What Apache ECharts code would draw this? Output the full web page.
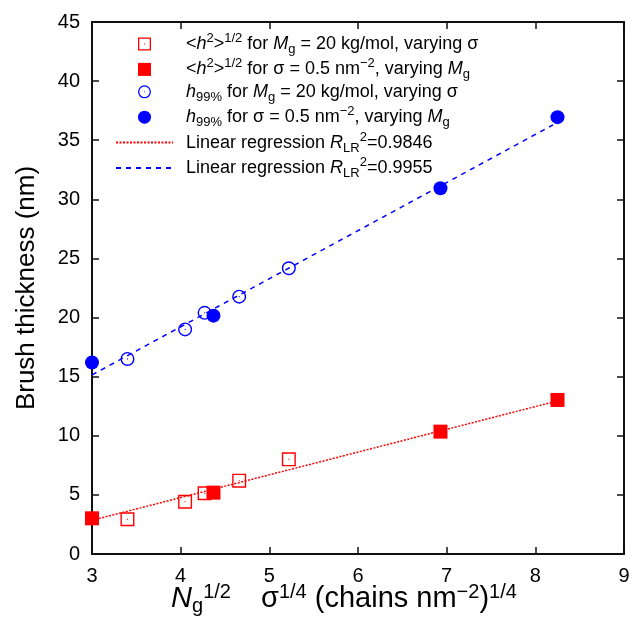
<!DOCTYPE html>
<html>
<head>
<meta charset="utf-8">
<script src="https://cdn.jsdelivr.net/npm/echarts@6/dist/echarts.min.js"></script>
<style>html,body{margin:0;padding:0;background:#fff}#c{width:633px;height:624px}</style>
</head>
<body>
<div id="c"></div>
<script>
// x-axis values: Ng^(1/2) sigma^(1/4)
var xVaryingSigma = [3.40, 4.05, 4.27, 4.66, 5.22];
var xVaryingMg = [3.00, 4.37, 6.93, 8.25];
// <h^2>^(1/2) values (nm)
var h2VaryingSigma = [2.94, 4.42, 5.14, 6.20, 8.01];
var h2VaryingMg = [3.02, 5.19, 10.35, 13.03];
// h99% values (nm)
var h99VaryingSigma = [16.5, 19.0, 20.4, 21.77, 24.17];
var h99VaryingMg = [16.2, 20.16, 30.94, 36.95];
// regression line end points
var regX = [3.0, 8.25];
var regRed = [2.85, 12.95];
var regBlueX = [3.0, 8.2];
var regBlue = [15.15, 36.3];

function pairs(xs, ys) { return xs.map(function (x, i) { return [x, ys[i]]; }); }

var FONT = "'Liberation Sans', Arial, Helvetica, sans-serif";
var RED = '#ff0000', BLUE = '#0000ff';
var openSquare = 'path://M0,0L20,0L20,20L0,20Z M2,2L2,18L18,18L18,2Z M9.2,9.2L10.8,9.2L10.8,10.8L9.2,10.8Z';
var filledSquare = 'path://M0,0L20,0L20,20L0,20Z';
var openCircle = 'path://M10,0A10,10,0,1,1,10,20A10,10,0,1,1,10,0Z M10,2A8,8,0,1,0,10,18A8,8,0,1,0,10,2Z M10,9.2A0.8,0.8,0,1,1,10,10.8A0.8,0.8,0,1,1,10,9.2Z';

var legendText = {
  h2s: '{n|<}{i|h}{sup|2}{n|>}{sup|1/2}{n| for }{i|M}{sub|g}{n| = 20 kg/mol, varying σ}',
  h2m: '{n|<}{i|h}{sup|2}{n|>}{sup|1/2}{n| for σ = 0.5 nm}{sup|−2}{n|, varying }{i|M}{sub|g}',
  h99s: '{i|h}{sub|99%}{n| for }{i|M}{sub|g}{n| = 20 kg/mol, varying σ}',
  h99m: '{i|h}{sub|99%}{n| for σ = 0.5 nm}{sup|−2}{n|, varying }{i|M}{sub|g}',
  lrr: '{n|Linear regression }{i|R}{sub|LR}{sup|2}{n|=0.9846}',
  lrb: '{n|Linear regression }{i|R}{sub|LR}{sup|2}{n|=0.9955}'
};

var chart = echarts.init(document.getElementById('c'));
var axisLine = { show: true, onZero: false, lineStyle: { color: '#111', width: 2 } };
var tick = { show: true, inside: true, length: 7, lineStyle: { color: '#111', width: 1.5 } };
var hidden = { opacity: 0, color: 'rgba(0,0,0,0)', borderColor: 'rgba(0,0,0,0)', borderWidth: 0 };

chart.setOption({
  backgroundColor: '#fff',
  animation: false,
  grid: { left: 92, right: 9, top: 22, bottom: 70, containLabel: false },
  legend: {
    orient: 'vertical', left: 110, top: 27, itemWidth: 57, itemHeight: 13, itemGap: 1.4,
    symbolKeepAspect: true,
    data: ['h2s', 'h2m', 'h99s', 'h99m',
      { name: 'lrr', itemStyle: hidden }, { name: 'lrb', itemStyle: hidden }],
    formatter: function (n) { return legendText[n]; },
    textStyle: {
      padding: [0, 0, 0, 8],
      fontFamily: FONT, fontSize: 18, color: '#000',
      rich: {
        n: { fontFamily: FONT, fontSize: 18, lineHeight: 24, color: '#000' },
        i: { fontFamily: FONT, fontSize: 18, lineHeight: 24, fontStyle: 'italic', color: '#000' },
        sup: { fontFamily: FONT, fontSize: 13, lineHeight: 10, verticalAlign: 'top', color: '#000' },
        sub: { fontFamily: FONT, fontSize: 13, lineHeight: 10, verticalAlign: 'bottom', color: '#000' }
      }
    }
  },
  xAxis: [{
    type: 'value', min: 3, max: 9, interval: 1, position: 'bottom',
    axisLine: axisLine, axisTick: tick, splitLine: { show: false },
    axisLabel: { fontFamily: FONT, fontSize: 20, color: '#000', margin: 12 },
    name: '{i|N}{sub|g}{sup|1/2}{ns| σ}{sup|1/4}{n| (chains nm}{sup|−2}{n|)}{sup|1/4}',
    nameLocation: 'middle', nameGap: 28, nameMoveOverlap: false,
    nameTextStyle: {
      padding: [0, 28, 0, 0],
      rich: {
        n: { fontFamily: FONT, fontSize: 29, lineHeight: 34, color: '#000' },
        ns: { fontFamily: FONT, fontSize: 29, lineHeight: 34, color: '#000', padding: [0, 0, 0, 22] },
        i: { fontFamily: FONT, fontSize: 29, lineHeight: 34, fontStyle: 'italic', color: '#000' },
        sup: { fontFamily: FONT, fontSize: 20, lineHeight: 16, verticalAlign: 'top', color: '#000' },
        sub: { fontFamily: FONT, fontSize: 20, lineHeight: 14, verticalAlign: 'bottom', color: '#000' }
      }
    }
  }, {
    type: 'value', min: 3, max: 9, interval: 1, position: 'top',
    axisLine: axisLine, axisTick: tick, splitLine: { show: false }, axisLabel: { show: false }
  }],
  yAxis: [{
    type: 'value', min: 0, max: 45, interval: 5, position: 'left',
    axisLine: axisLine, axisTick: tick, splitLine: { show: false },
    axisLabel: { fontFamily: FONT, fontSize: 20, color: '#000', margin: 12 },
    name: 'Brush thickness (nm)', nameLocation: 'middle', nameGap: 52,
    nameTextStyle: { fontFamily: FONT, fontSize: 26, color: '#000' }
  }, {
    type: 'value', min: 0, max: 45, interval: 5, position: 'right',
    axisLine: axisLine, axisTick: tick, splitLine: { show: false }, axisLabel: { show: false }
  }],
  series: [
    { name: 'h2s', type: 'scatter', symbol: openSquare, symbolSize: 14, symbolKeepAspect: true,
      itemStyle: { color: RED, opacity: 1 }, data: pairs(xVaryingSigma, h2VaryingSigma), z: 5 },
    { name: 'h2m', type: 'scatter', symbol: filledSquare, symbolSize: 14, symbolKeepAspect: true,
      itemStyle: { color: RED, opacity: 1 }, data: pairs(xVaryingMg, h2VaryingMg), z: 5 },
    { name: 'h99s', type: 'scatter', symbol: openCircle, symbolSize: 14, symbolKeepAspect: true,
      itemStyle: { color: BLUE, opacity: 1 }, data: pairs(xVaryingSigma, h99VaryingSigma), z: 5 },
    { name: 'h99m', type: 'scatter', symbol: 'circle', symbolSize: 14,
      itemStyle: { color: BLUE, opacity: 1 }, data: pairs(xVaryingMg, h99VaryingMg), z: 5 },
    { name: 'lrr', type: 'line', symbol: 'none', data: pairs(regX, regRed), z: 3,
      lineStyle: { color: RED, width: 1.5, type: [2, 1.5] }, itemStyle: hidden },
    { name: 'lrb', type: 'line', symbol: 'none', data: pairs(regBlueX, regBlue), z: 3,
      lineStyle: { color: BLUE, width: 1.5, type: [5, 5] }, itemStyle: hidden }
  ]
});
</script>
</body>
</html>
